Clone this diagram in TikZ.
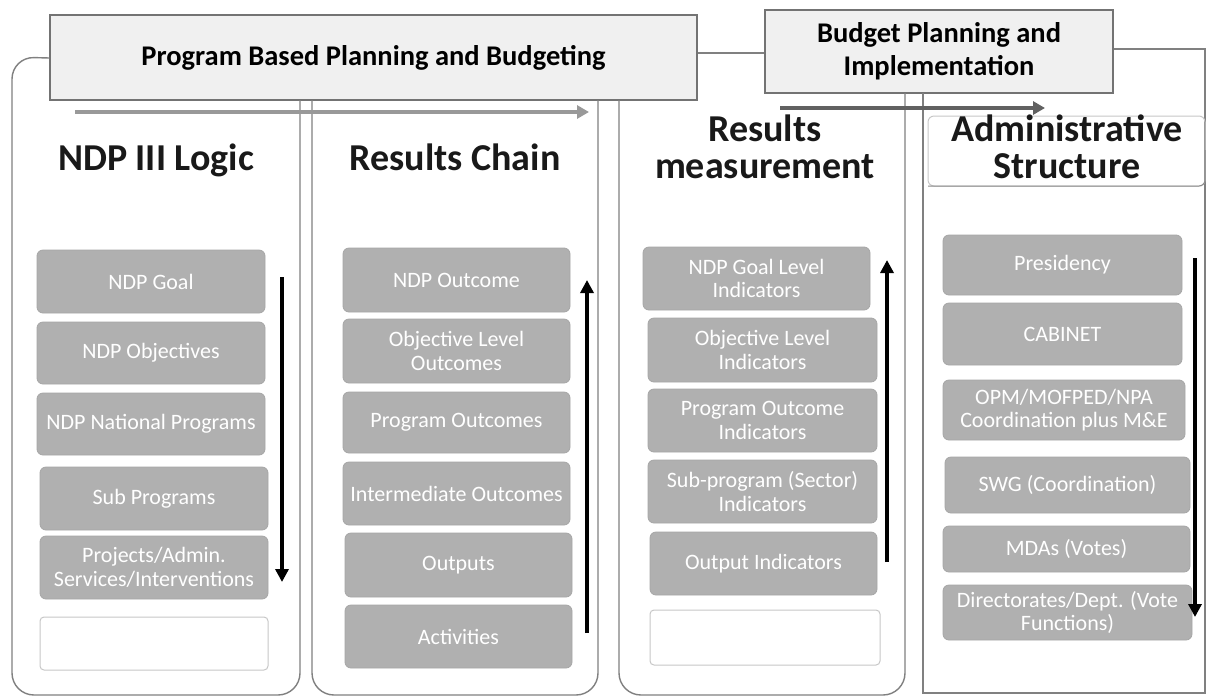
\documentclass[tikz,border=0pt]{standalone}
\usepackage{fontspec}
\setmainfont{Carlito}
\usetikzlibrary{arrows.meta,calc}
\begin{document}
\begin{tikzpicture}[x=1pt,y=-1pt,
  frame/.style={draw=black!50,line width=1.4pt},
  topbox/.style={draw=black!55,line width=1.2pt,fill=black!6,inner sep=0pt,align=center,
     font=\fontsize{28.5}{33}\selectfont\bfseries},
  head/.style={inner sep=0pt,align=center,font=\fontsize{38}{37}\selectfont\bfseries,text=black!90},
  gbox/.style={draw=black!35,line width=0.8pt,fill=black!31,rounded corners=6pt,inner sep=0pt,
     align=center,text=white,font=\fontsize{22}{23.5}\selectfont},
  ebox/.style={draw=black!22,line width=1pt,fill=white,rounded corners=4pt,inner sep=0pt},
  flow/.style={line width=3.5pt,-{Triangle[width=13pt,length=13pt]}},
  band/.style={line width=4pt,-{Triangle[width=13pt,length=12pt]}}
]
\useasboundingbox (0,0) rectangle (1209,697);
\fill[white] (0,0) rectangle (1209,697);

% top boxes
\node[topbox,minimum width=647pt,minimum height=85pt] (pbb) at (373.5,57.5) {Program Based Planning and Budgeting};
\node[topbox,minimum width=348pt,minimum height=83pt] (bpi) at (939,51.5) {Budget Planning and\\Implementation};
\draw[frame] ([yshift=4.5pt]pbb.east) -- ([yshift=4.5pt]pbb.east -| bpi.west);

% column frames
\draw[frame,rounded corners=22pt] ([yshift=-0.5pt]pbb.west) -- (12,57) -- (12,695) -- (300,695) -- (300,100);
\draw[frame,rounded corners=22pt] (312,100) -- (312,695) -- (598,695) -- (598,100);
\draw[frame,rounded corners=22pt] (619,100) -- (619,695) -- (905,695) -- (905,93);
\coordinate (c4tr) at (1205,49);
\coordinate (c4br) at (1205,693);
\coordinate (c4bl) at (923,693);
\coordinate (c4tl) at (923,93);
\draw[frame] ([yshift=2.5pt]bpi.east) -- (c4tr) -- (c4br) -- (c4bl) -- (c4tl);
\draw[draw=black!22,line width=1pt,rounded corners=6pt] (928,116) rectangle (1205,186);
\draw[draw=black!45,line width=1pt,rounded corners=6pt] (928,186) -- (1205,186) -- (1205,150);

% band arrows
\coordinate (b1s) at (75,112);
\coordinate (b1e) at (589,112);
\coordinate (b2s) at (780,108);
\coordinate (b2e) at (1045,108);
\draw[band,black!40] (b1s) -- (b1e);
\draw[band,black!62] (b2s) -- (b2e);

% headers
\node[head,anchor=base] (h1) at (156,170) {NDP III Logic};
\node[head,anchor=base] (h2) at (455,170) {Results Chain};
\node[head] (h3) at (765,147) {Results\\measurement};
\node[head] (h4) at (1067,147) {Administrative\\Structure};

% column 1
\node[gbox,minimum width=228pt,minimum height=63pt] (g1) at (151,281.5) {NDP Goal};
\node[gbox,minimum width=228pt,minimum height=62pt] (g2) at (151,353) {NDP Objectives};
\node[gbox,minimum width=228pt,minimum height=62pt] (g3) at (151,424) {NDP National Programs};
\node[gbox,minimum width=228pt,minimum height=63pt] (g4) at (154,498.5) {Sub Programs};
\node[gbox,minimum width=228pt,minimum height=63pt] (g5) at (154,567.5) {Projects/Admin.\\Services/Interventions};
\node[ebox,minimum width=228pt,minimum height=53pt] (e1) at (154,643.5) {};

% column 2
\node[gbox,minimum width=227pt,minimum height=64pt] (r1) at (456.5,280) {NDP Outcome};
\node[gbox,minimum width=227pt,minimum height=64pt] (r2) at (456.5,351) {Objective Level\\Outcomes};
\node[gbox,minimum width=227pt,minimum height=61pt] (r3) at (456.5,422.5) {Program Outcomes};
\node[gbox,minimum width=227pt,minimum height=63pt] (r4) at (456.5,493.5) {Intermediate Outcomes};
\node[gbox,minimum width=227pt,minimum height=64pt] (r5) at (458.5,565) {Outputs};
\node[gbox,minimum width=227pt,minimum height=63pt] (r6) at (458.5,636.5) {Activities};

% column 3
\node[gbox,minimum width=227pt,minimum height=63pt] (m1) at (756.5,278.5) {NDP Goal Level\\Indicators};
\node[gbox,minimum width=229pt,minimum height=64pt] (m2) at (762.5,350) {Objective Level\\Indicators};
\node[gbox,minimum width=229pt,minimum height=63pt] (m3) at (762.5,420.5) {Program Outcome\\Indicators};
\node[gbox,minimum width=229pt,minimum height=63pt] (m4) at (762.5,491.5) {Sub-program (Sector)\\Indicators};
\node[gbox,minimum width=227pt,minimum height=63pt] (m5) at (763.5,563.5) {Output Indicators};
\node[ebox,minimum width=230pt,minimum height=55pt] (e3) at (765,637.5) {};

% column 4
\node[gbox,minimum width=239pt,minimum height=60pt] (a1) at (1062.5,265) {Presidency};
\node[gbox,minimum width=239pt,minimum height=62pt] (a2) at (1062.5,334) {CABINET};
\node[gbox,minimum width=242pt,minimum height=60pt] (a3) at (1064,410) {OPM/MOFPED/NPA\\Coordination plus M\&E};
\node[gbox,minimum width=245pt,minimum height=56pt] (a4) at (1067.5,485) {SWG (Coordination)};
\node[gbox,minimum width=247pt,minimum height=46pt] (a5) at (1066.5,549) {MDAs (Votes)};
\node[gbox,minimum width=249pt,minimum height=55pt] (a6) at (1067.5,612.5) {Directorates/Dept. (Vote\\Functions)};

% flow arrows
\coordinate (f1s) at (282,277);
\coordinate (f1e) at (282,582);
\coordinate (f2s) at (587,633);
\coordinate (f2e) at (587,280);
\coordinate (f3s) at (887,562);
\coordinate (f3e) at (887,260);
\coordinate (f4s) at (1195,258);
\coordinate (f4e) at (1195,617);
\draw[flow] (f1s) -- (f1e);
\draw[flow] (f2s) -- (f2e);
\draw[flow] (f3s) -- (f3e);
\draw[flow] (f4s) -- (f4e);
\end{tikzpicture}
\end{document}
